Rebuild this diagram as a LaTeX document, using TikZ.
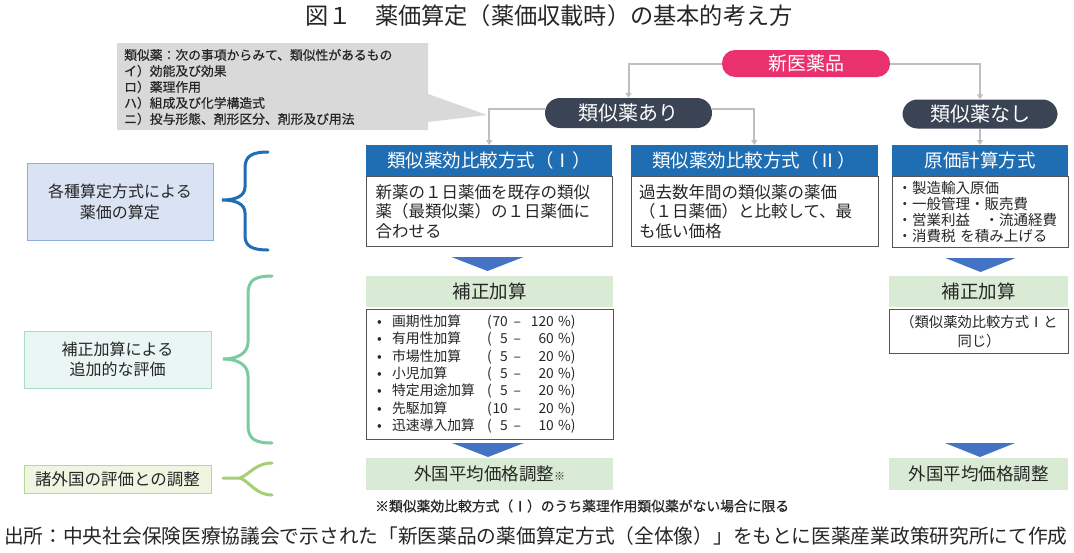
\documentclass[tikz,border=0pt]{standalone}
\usepackage{fontspec}
\setmainfont{Noto Sans CJK JP}
\newfontfamily\semibold[FakeBold=0.6]{Noto Sans CJK JP}
\usetikzlibrary{arrows.meta,calc}
\definecolor{pinkc}{HTML}{EA316D}
\definecolor{navyc}{HTML}{3B4454}
\definecolor{hdrblue}{HTML}{1F6DB3}
\definecolor{tricol}{HTML}{4472C4}
\definecolor{greenhdr}{HTML}{DAEBD5}
\definecolor{connc}{HTML}{BFBFBF}
\definecolor{callc}{HTML}{D9D9D9}
\definecolor{boxline}{HTML}{555555}
\definecolor{lblblue}{HTML}{DAE3F3}
\definecolor{lblblueb}{HTML}{8FAADC}
\definecolor{lblmint}{HTML}{EAF6F3}
\definecolor{lblmintb}{HTML}{A9DCC9}
\definecolor{lblyg}{HTML}{EEF6E2}
\definecolor{lblygb}{HTML}{B5D98E}
\definecolor{brblue}{HTML}{1F6DB3}
\definecolor{brmint}{HTML}{7ACBA0}
\definecolor{bryg}{HTML}{A5CF72}
\definecolor{txtc}{HTML}{262626}
\newcommand{\myfs}[2]{\fontsize{#1}{#2}\selectfont}
\newcommand{\ListRow}[3]{\makebox[15pt][l]{•}\makebox[95pt][l]{#1}(\makebox[16pt][r]{#2}\makebox[19pt]{–}\makebox[27pt][r]{#3}\makebox[17pt][r]{\%})}
\begin{document}
\begin{tikzpicture}[x=1pt,y=-1pt,
  pill/.style={rounded corners=13pt, text=white, inner sep=0pt},
  hdr/.style={fill=hdrblue, text=white, inner sep=0pt, anchor=north west, font=\myfs{18.5}{22}},
  bodybox/.style={draw=boxline, line width=1pt, fill=white, anchor=north west, inner sep=0pt},
  greenbox/.style={fill=greenhdr, text=txtc, inner sep=0pt, anchor=north west},
  conn/.style={draw=connc, line width=2pt, -{Triangle[width=6pt,length=5pt]}},
  tri/.style={fill=tricol},
  brace/.style={line width=3pt, line cap=round}
]
\useasboundingbox (0,0) rectangle (1074,552);
\fill[white] (0,0) rectangle (1074,552);

% title
\node[text=txtc, font=\myfs{23.2}{26}] (title) at (549,16) {図１　薬価算定（薬価収載時）の基本的考え方};

% callout
\fill[callc] (117,43) -- (428,43) -- (428,94) -- (487,115) -- (428,122) -- (428,130) -- (117,130) -- cycle;
\node[anchor=west, align=left, inner sep=0pt, text=txtc, font=\semibold\myfs{12.8}{16}] (callout) at (124,87)
 {類似薬：次の事項からみて、類似性があるもの\\イ）効能及び効果\\ロ）薬理作用\\ハ）組成及び化学構造式\\ニ）投与形態、剤形区分、剤形及び用法};

% top nodes
\node[pill, fill=pinkc, minimum width=168pt, minimum height=27pt, font=\myfs{19}{22}] (new) at (806,63.5) {新医薬品};
\node[pill, fill=navyc, rounded corners=15pt, minimum width=167pt, minimum height=30pt, font=\myfs{20}{24}] (yes) at (628.5,113) {類似薬あり};
\node[pill, fill=navyc, rounded corners=15pt, minimum width=155pt, minimum height=29pt, font=\myfs{20}{24}] (no) at (980,114) {類似薬なし};

% headers
\node[hdr, minimum width=246pt, minimum height=31pt] (h1) at (366,145) {類似薬効比較方式（Ⅰ）};
\node[hdr, minimum width=247pt, minimum height=31pt] (h2) at (630.5,145) {類似薬効比較方式（Ⅱ）};
\node[hdr, minimum width=176pt, minimum height=31pt] (h3) at (892,145) {原価計算方式};

% bodies
\node[bodybox, minimum width=246pt, minimum height=70pt, text width=228pt, align=left, inner xsep=9pt, font=\myfs{16.5}{19.5}, text=txtc] (b1) at (366,176)
 {新薬の１日薬価を既存の類似\\薬（最類似薬）の１日薬価に\\合わせる};
\node[bodybox, minimum width=247pt, minimum height=70pt, text width=231pt, align=left, inner xsep=8pt, font=\myfs{16.5}{19.5}, text=txtc] (b2) at (630.5,176)
 {過去数年間の類似薬の薬価\\（１日薬価）と比較して、最\\も低い価格};
\node[bodybox, minimum width=176pt, minimum height=71pt, text width=166pt, align=left, inner xsep=5pt, font=\myfs{14.5}{15.8}, text=txtc] (b3) at (892,176)
 {・製造輸入原価\\・一般管理・販売費\\・営業利益　・流通経費\\・消費税 を積み上げる};

% connectors
\draw[conn] (new.west) -| (yes.north);
\draw[conn] (new.east) -| (no.north);
\draw[conn] ($(yes.west)+(0,-4)$) -| (h1.north);
\draw[conn] ($(yes.east)+(0,-4)$) -| (h2.north);
\draw[conn] (no.south) -- (no.south |- h3.north);

% blue triangles
\fill[tri] ($(b1.south)+(-38,10)$) -- ($(b1.south)+(34,10)$) -- ($(b1.south)+(-2,24)$) -- cycle;
\fill[tri] ($(b3.south)+(-35,10)$) -- ($(b3.south)+(35,10)$) -- ($(b3.south)+(0,24)$) -- cycle;

% correction headers
\node[greenbox, minimum width=247pt, minimum height=31pt, font=\myfs{18.5}{22}] (c1) at (366,276) {補正加算};
\node[greenbox, minimum width=179pt, minimum height=31pt, font=\myfs{18.5}{22}] (c2) at (889,276) {補正加算};

% list box
\node[bodybox, minimum width=247pt, minimum height=130pt] (list) at (366,309) {};
\node[anchor=west, align=left, inner sep=0pt, text=txtc, font=\myfs{13.8}{17.3}] (items) at (377,374)
 {\ListRow{画期性加算}{70}{120}\\
  \ListRow{有用性加算}{5}{60}\\
  \ListRow{市場性加算}{5}{20}\\
  \ListRow{小児加算}{5}{20}\\
  \ListRow{特定用途加算}{5}{20}\\
  \ListRow{先駆加算}{10}{20}\\
  \ListRow{迅速導入加算}{5}{10}};
\node[bodybox, minimum width=179pt, minimum height=44pt, align=center, font=\myfs{14.3}{19}, text=txtc] (cb2) at (889,309)
 {（類似薬効比較方式Ⅰと\\同じ）};

\fill[tri] ($(list.south)+(-38,3)$) -- ($(list.south)+(34,3)$) -- ($(list.south)+(-2,17)$) -- cycle;
\fill[tri] ($(cb2.south)+(-34,89)$) -- ($(cb2.south)+(36,89)$) -- ($(cb2.south)+(1,103)$) -- cycle;

% foreign price adjustment
\node[greenbox, minimum width=247pt, minimum height=32pt, font=\myfs{17.5}{20}] (f1) at (366,458) {外国平均価格調整{\myfs{11}{12}※}};
\node[greenbox, minimum width=179pt, minimum height=32pt, font=\myfs{17.5}{20}] (f2) at (889,458) {外国平均価格調整};

% footnote
\node[anchor=west, inner sep=0pt, text=txtc, font=\semibold\myfs{13.8}{16}] (foot) at (375,506) {※類似薬効比較方式（Ⅰ）のうち薬理作用類似薬がない場合に限る};

% source
\node[anchor=west, inner sep=0pt, text=txtc, font=\myfs{19.7}{22}] (src) at (4,536) {出所：中央社会保険医療協議会で示された「新医薬品の薬価算定方式（全体像）」をもとに医薬産業政策研究所にて作成};

% left labels
\node[draw=lblblueb, fill=lblblue, line width=1pt, minimum width=186pt, minimum height=77pt, align=center, text=txtc, font=\myfs{16}{21}, inner sep=0pt] (l1) at (120,201.5) {各種算定方式による\\薬価の算定};
\node[draw=lblmintb, fill=lblmint, line width=1pt, minimum width=187pt, minimum height=57pt, align=center, text=txtc, font=\myfs{16}{20}, inner sep=0pt] (l2) at (117.5,359.5) {補正加算による\\追加的な評価};
\node[draw=lblygb, fill=lblyg, line width=1pt, minimum width=187pt, minimum height=28pt, align=center, text=txtc, font=\myfs{16.5}{20}, inner sep=0pt] (l3) at (117.5,479) {諸外国の評価との調整};

% braces
\draw[brace, draw=brblue] (268,152) .. controls (252,152) and (245,156) .. (245,168) -- (245,187) .. controls (245,196) and (236,200) .. (222,200) .. controls (236,200) and (245,204) .. (245,213) -- (245,236) .. controls (245,246) and (252,250) .. (268,250);
\draw[brace, draw=brmint] (272,276) .. controls (255,276) and (248,280) .. (248,294) -- (248,342) .. controls (248,353) and (238,359) .. (223,359) .. controls (238,359) and (248,365) .. (248,376) -- (248,425) .. controls (248,439) and (255,443) .. (272,443);
\draw[brace, draw=bryg] (272,463) .. controls (256,463) and (250,474) .. (240,478) -- (223,478);
\draw[brace, draw=bryg] (272,495) .. controls (256,495) and (250,482) .. (240,478);
\end{tikzpicture}
\end{document}
